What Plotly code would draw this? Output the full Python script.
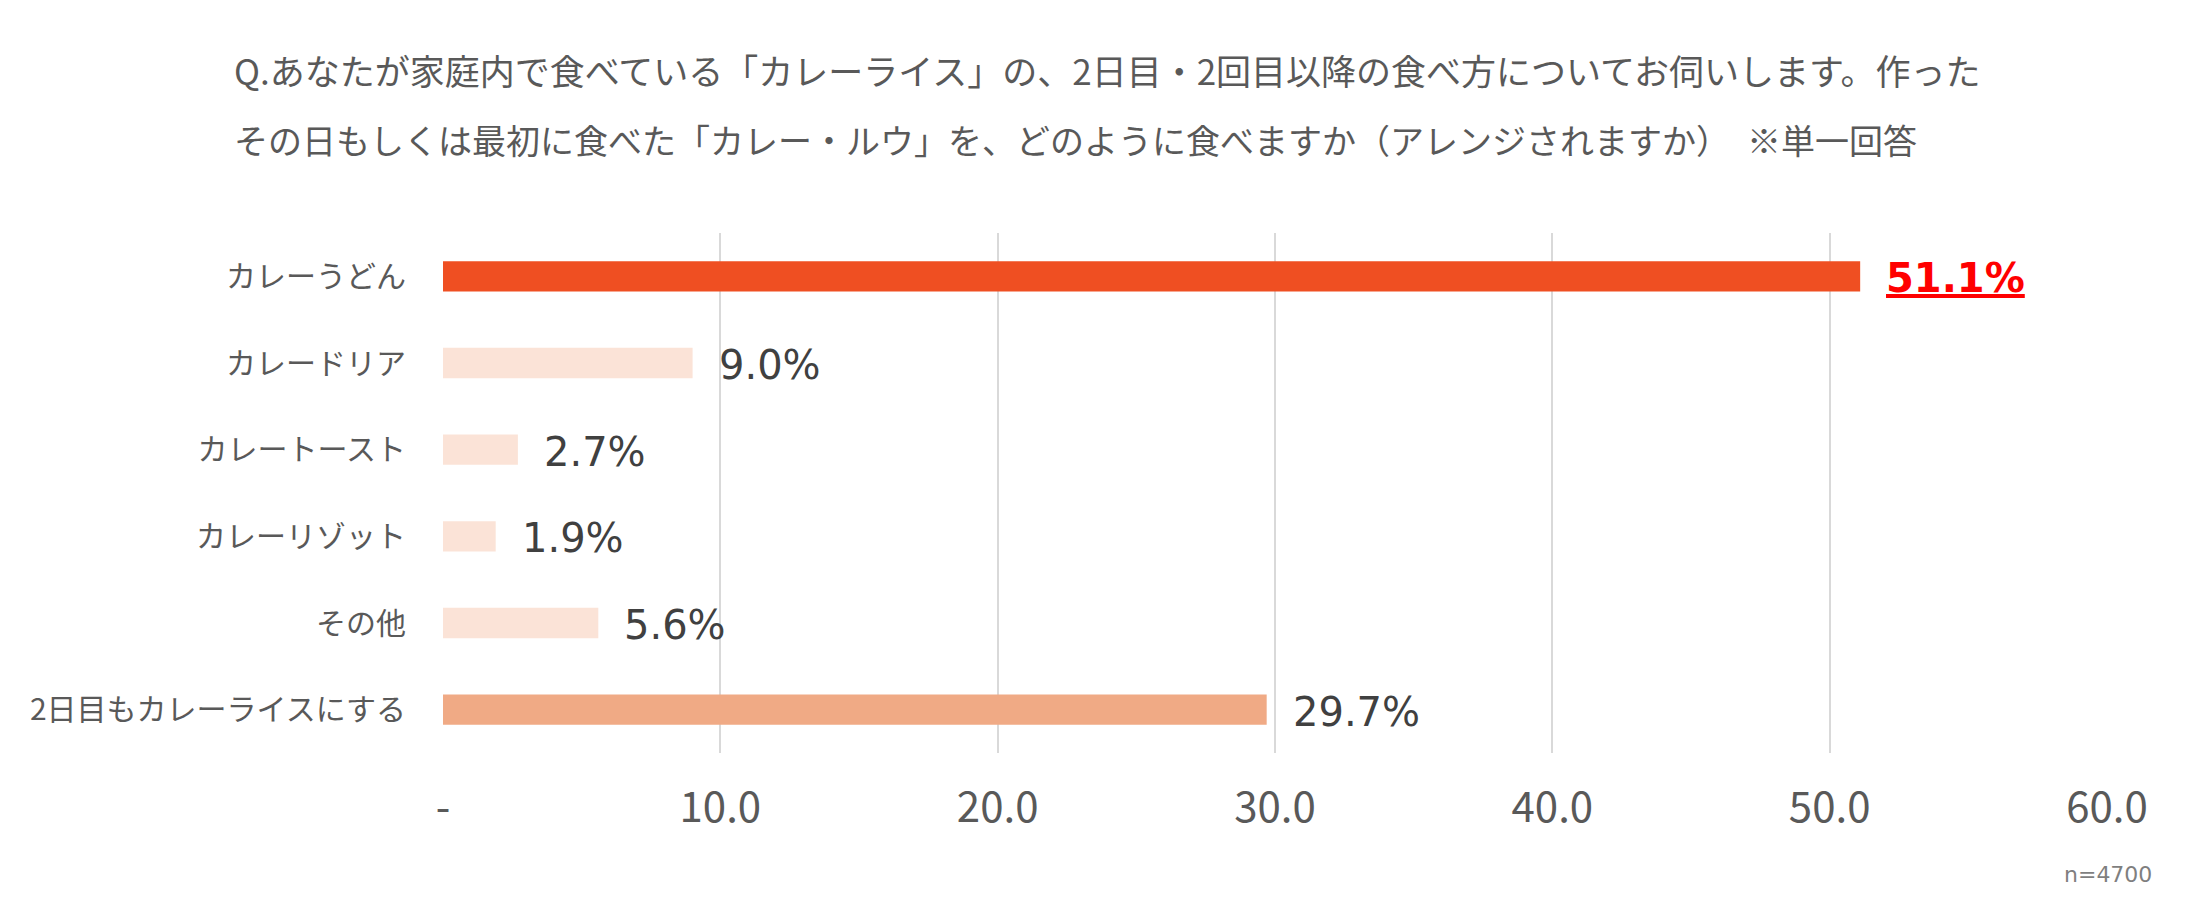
import plotly.graph_objects as go

categories = ["カレーうどん", "カレードリア", "カレートースト", "カレーリゾット", "その他", "2日目もカレーライスにする"]
values = [51.1, 9.0, 2.7, 1.9, 5.6, 29.7]
bar_colors = ["#EF4F22", "#FBE3D7", "#FBE3D7", "#FBE3D7", "#FBE3D7", "#F0AA85"]
tick_vals = [0, 10, 20, 30, 40, 50, 60]
tick_text = ["-", "10.0", "20.0", "30.0", "40.0", "50.0", "60.0"]
title_line1 = "Q.あなたが家庭内で食べている「カレーライス」の、2日目・2回目以降の食べ方についてお伺いします。作った"
title_line2 = "その日もしくは最初に食べた「カレー・ルウ」を、どのように食べますか（アレンジされますか）　※単一回答"
note = "n=4700"

JP = "Noto Sans CJK JP"

fig = go.Figure(go.Bar(
    x=values, y=categories, orientation="h",
    marker=dict(color=bar_colors, line=dict(width=0)),
    width=0.35, hoverinfo="skip",
))

annotations = []
for i, (c, v) in enumerate(zip(categories, values)):
    if i == 0:
        txt = "<b><u>%.1f%%</u></b>" % v
        col = "#FF0000"
    else:
        txt = "%.1f%%" % v
        col = "#404040"
    annotations.append(dict(
        x=v, y=c, xref="x", yref="y", text=txt, showarrow=False,
        xanchor="left", yanchor="middle", xshift=24, yshift=-2,
        font=dict(family="DejaVu Sans", size=40, color=col),
    ))

annotations.append(dict(
    x=-0.127, y=1.315, xref="paper", yref="paper", text=title_line1, showarrow=False,
    xanchor="left", yanchor="middle", font=dict(family=JP, size=35, color="#595959"),
))
annotations.append(dict(
    x=-0.127, y=1.179, xref="paper", yref="paper", text=title_line2, showarrow=False,
    xanchor="left", yanchor="middle", font=dict(family=JP, size=34, color="#595959"),
))
annotations.append(dict(
    x=1.028, y=-0.233, xref="paper", yref="paper", text=note, showarrow=False,
    xanchor="right", yanchor="middle", font=dict(family="DejaVu Sans", size=22, color="#7F7F7F"),
))

fig.update_layout(
    width=2200, height=902, autosize=False,
    margin=dict(l=435, r=101, t=225, b=157, pad=0),
    paper_bgcolor="white", plot_bgcolor="white",
    showlegend=False,
    annotations=annotations,
    xaxis=dict(
        range=[0, 60], tickvals=tick_vals, ticktext=tick_text,
        showgrid=True, gridcolor="#D9D9D9", gridwidth=2,
        zeroline=False, showline=False, ticks="",
        ticklabelstandoff=26,
        tickfont=dict(family=JP, size=42, color="#595959"),
        fixedrange=True,
    ),
    yaxis=dict(
        autorange="reversed", showgrid=False, zeroline=False, showline=False,
        ticks="", ticklabelstandoff=36,
        tickfont=dict(family=JP, size=30, color="#595959"),
        fixedrange=True,
    ),
)

fig.write_html("out.html")
